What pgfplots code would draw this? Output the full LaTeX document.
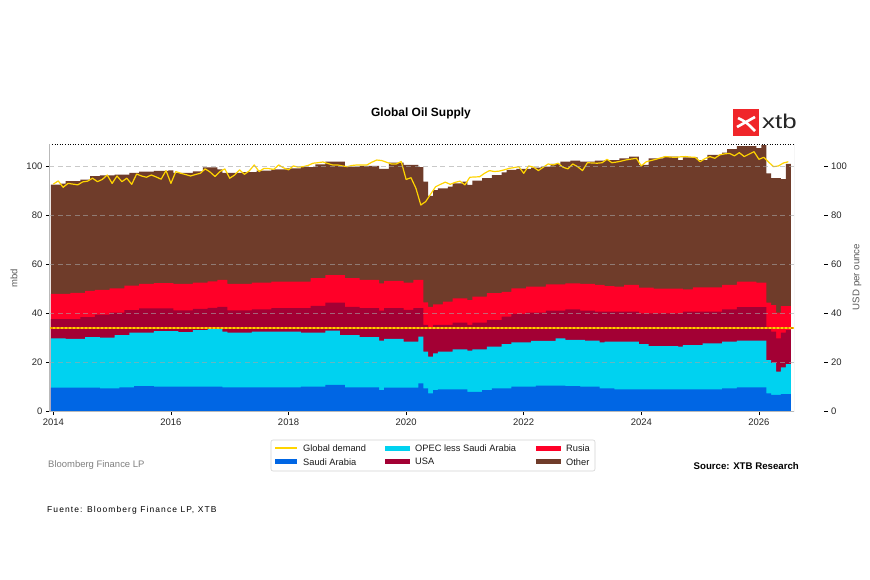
\documentclass[border=0pt]{standalone}
\usepackage{fontspec}
\setmainfont{Liberation Sans}
\newfontfamily\spaced[LetterSpace=13]{Liberation Sans}
\usepackage{pgfplots}
\usepackage{pgfplotstable}
\pgfplotsset{compat=1.18}

\definecolor{cSaudi}{HTML}{0066E4}
\definecolor{cOpec}{HTML}{00D2F0}
\definecolor{cUSA}{HTML}{A30034}
\definecolor{cRus}{HTML}{FF0028}
\definecolor{cOther}{HTML}{6F3C2A}
\definecolor{cDemand}{HTML}{FFD400}
\definecolor{cDotA}{HTML}{FFD000}
\definecolor{cDotB}{HTML}{E08A00}
\definecolor{cLogo}{HTML}{F0262A}

% cumulative tops: B = Saudi Arabia, C = + OPEC less Saudi Arabia, U = + USA, R = + Rusia, T = + Other (total); D = global demand
\pgfplotstableread{
B C U R T D
9.8 29.8 37.7 47.9 92.4 92.6
9.8 29.8 37.7 47.9 92.4 93.9
9.8 29.8 37.7 47.9 92.8 91.3
9.8 29.6 37.7 47.9 93.8 92.9
9.8 29.6 37.7 48.3 93.8 92.6
9.8 29.6 37.7 48.3 93.8 92.3
9.8 29.6 38.5 48.3 94.4 93.5
9.8 30.3 38.5 49.2 94.4 93.8
9.8 30.3 38.5 49.2 95.8 95.0
9.8 30.3 39.5 49.6 95.8 93.6
9.5 30.1 39.5 49.6 96.2 94.5
9.5 30.1 39.5 49.6 96.2 96.3
9.5 30.1 40.3 50.2 96.2 92.9
9.5 31.2 40.3 50.2 96.5 95.9
9.9 31.2 40.3 50.2 96.5 93.6
9.9 31.2 41.3 51.3 96.5 95.0
9.9 32.2 41.3 51.3 97.2 92.5
10.4 32.2 41.3 51.3 97.2 96.7
10.4 32.2 42.0 52.0 97.7 95.9
10.4 32.2 42.0 52.0 97.7 95.4
10.4 32.2 42.0 52.0 97.7 96.3
10.2 32.8 42.0 52.3 98.0 95.5
10.2 32.8 42.0 52.3 98.0 94.6
10.2 32.8 42.0 52.3 98.0 98.1
10.2 32.8 42.0 52.3 98.2 92.9
10.2 32.8 41.2 52.0 97.2 97.7
10.2 32.4 41.2 52.0 97.2 97.0
10.2 32.4 41.2 52.0 97.2 96.5
10.2 32.4 41.2 52.0 97.2 95.9
10.2 33.2 41.8 52.5 97.8 96.5
10.2 33.2 41.8 52.5 97.8 97.0
10.2 33.2 41.8 52.5 99.4 98.8
10.2 33.9 42.2 53.0 99.4 97.5
10.2 33.9 42.2 53.0 99.4 95.7
10.2 33.9 42.7 53.6 98.6 97.7
9.9 32.6 42.7 53.6 97.2 98.8
9.9 32.2 41.2 52.0 97.2 95.0
9.9 32.2 41.2 52.0 97.2 96.3
9.9 32.2 41.2 52.0 97.2 98.4
9.9 32.2 41.2 52.0 97.5 96.6
9.9 32.2 41.2 52.0 97.5 98.0
9.9 32.6 41.6 52.5 97.5 100.4
9.9 32.6 41.6 52.5 98.1 97.7
9.9 32.6 41.6 52.5 98.1 99.0
9.9 32.6 41.6 52.5 98.1 98.9
9.9 32.6 42.1 52.9 98.6 98.6
9.9 32.6 42.1 52.9 98.6 100.4
9.9 32.6 42.1 52.9 98.6 99.2
9.9 32.6 42.1 52.9 99.0 98.4
9.9 32.6 42.1 52.9 99.0 100.0
9.9 32.6 42.1 52.9 99.0 99.5
10.2 32.2 42.1 52.9 99.5 99.7
10.2 32.2 42.1 52.9 99.5 100.2
10.2 32.2 43.1 54.3 99.5 101.1
10.2 32.2 43.1 54.3 100.6 101.3
10.2 32.2 43.1 54.3 100.6 101.6
10.9 33.0 44.4 55.6 101.8 101.0
10.9 33.0 44.4 55.6 101.8 100.4
10.9 33.0 44.4 55.6 101.8 100.4
10.9 31.2 44.4 55.6 101.8 100.0
9.9 31.2 42.7 54.3 99.7 99.7
9.9 31.2 42.7 54.3 99.7 100.2
9.9 31.2 42.7 54.3 99.7 100.4
9.9 30.3 42.1 53.6 100.0 100.4
9.9 30.3 42.1 53.6 100.0 100.4
9.9 30.3 42.1 53.6 100.0 101.5
9.9 30.3 42.1 53.6 100.0 102.4
8.8 28.9 41.1 52.2 98.8 102.2
9.8 29.6 42.1 53.2 98.8 101.5
9.8 29.6 42.1 53.2 101.3 100.8
9.8 29.6 42.1 53.2 101.3 100.8
9.8 29.6 42.1 53.2 101.3 101.8
9.8 28.5 41.4 52.5 100.4 94.5
9.8 28.5 41.4 52.5 100.4 95.2
9.8 28.5 42.1 53.6 100.4 90.9
11.5 30.5 42.1 53.6 99.5 84.1
9.5 24.4 35.3 44.5 93.6 85.5
7.5 22.4 34.0 42.7 87.8 88.5
8.8 23.7 35.3 43.7 90.2 91.5
9.1 24.4 35.3 43.7 90.9 92.5
9.1 24.4 35.3 44.8 90.9 93.4
9.1 24.4 35.3 44.8 91.6 92.5
9.1 25.4 36.2 46.1 92.9 93.3
9.1 25.4 36.2 46.1 92.9 93.8
9.1 25.4 36.2 46.1 93.6 92.3
8.1 24.8 35.3 45.4 92.3 95.4
8.1 25.4 36.2 46.8 94.0 95.5
8.1 25.4 36.2 46.8 94.0 95.6
8.8 25.4 36.2 46.8 95.0 97.0
8.8 26.5 37.3 48.2 95.0 98.1
9.5 26.5 37.3 48.2 96.3 97.7
9.5 26.5 37.3 48.2 96.3 97.9
9.5 27.5 38.7 48.8 97.4 98.4
9.5 27.5 38.7 48.8 98.4 99.0
10.2 28.2 39.8 50.2 98.4 99.3
10.2 28.2 39.8 50.2 98.8 99.7
10.2 28.2 39.8 50.2 98.8 97.0
10.2 28.2 40.3 50.9 98.8 100.0
10.2 28.8 40.3 50.9 99.3 99.5
10.6 28.8 40.3 50.9 99.3 98.1
10.6 28.8 40.3 50.9 99.7 99.5
10.6 28.8 41.1 51.8 99.7 100.8
10.6 28.8 41.1 51.8 100.8 100.4
10.6 29.8 41.1 51.8 100.8 101.1
10.6 29.8 41.1 51.8 101.7 99.5
10.4 29.2 41.6 52.2 101.7 98.8
10.4 29.2 41.6 52.2 102.2 100.8
10.4 29.2 41.6 52.2 102.2 99.7
10.2 29.2 41.1 52.0 101.7 98.1
10.2 28.9 41.1 52.0 101.7 101.3
10.2 28.9 41.1 52.0 101.7 101.2
10.2 28.9 40.7 51.6 102.2 101.1
9.5 28.2 40.7 51.6 102.2 101.3
9.5 28.5 40.7 51.1 102.4 102.7
9.5 28.5 40.7 51.1 102.4 101.3
9.1 28.5 40.7 50.9 102.4 101.6
9.1 28.5 40.7 50.9 103.1 102.0
9.1 28.5 40.7 51.6 103.1 102.5
9.1 28.5 40.7 51.6 103.8 102.8
9.1 28.5 40.7 51.6 103.8 103.1
9.1 27.5 40.0 50.5 100.4 100.0
9.1 27.5 40.0 50.5 100.4 101.7
9.1 26.7 40.0 50.5 103.1 102.2
9.1 26.7 40.0 50.1 103.1 102.7
9.1 26.7 40.0 50.1 103.1 103.3
9.1 26.7 40.0 50.1 103.8 103.8
9.1 26.7 40.0 50.1 103.8 103.6
9.1 26.7 40.0 50.1 103.8 103.5
9.1 26.5 40.0 50.1 102.4 103.7
9.1 27.1 40.7 49.8 103.5 103.8
9.1 27.1 40.7 49.8 103.5 103.6
9.1 27.1 40.7 50.6 103.5 103.5
9.1 27.1 40.7 50.6 102.4 101.7
9.1 27.8 40.7 50.6 102.4 103.0
9.1 27.8 40.7 50.6 104.5 103.8
9.1 27.8 40.7 50.6 104.5 103.1
9.1 27.8 40.7 50.6 104.5 104.5
9.5 28.5 41.6 51.6 105.4 104.9
9.5 28.5 41.6 51.6 106.8 105.1
9.5 28.5 41.6 51.6 106.8 104.1
9.9 28.9 42.5 52.9 108.1 105.4
9.9 28.9 42.5 52.9 108.1 103.8
9.9 28.9 42.5 52.9 108.1 104.8
9.9 28.9 42.5 52.9 108.1 105.8
9.9 28.9 42.5 52.5 107.2 102.7
9.9 28.9 42.5 52.5 108.5 103.5
7.5 21.0 34.5 44.4 97.0 101.5
6.8 19.9 32.6 43.4 95.0 99.7
6.8 16.3 29.8 40.3 95.0 100.0
7.2 18.0 32.2 43.0 94.6 101.2
7.2 19.4 33.2 43.0 100.8 101.7
7.2 19.4 33.2 43.0 100.8 101.7
}\supply

\begin{document}
\begin{tikzpicture}
\useasboundingbox (0,0) rectangle (870bp,580bp);
\fill[white] (0,0) rectangle (870bp,580bp);

\begin{axis}[
  at={(49.3bp,168.3bp)}, anchor=south west,
  scale only axis, width=744.7bp, height=267.4bp,
  xmin=-0.82, xmax=151.16, ymin=0, ymax=108.8,
  axis x line*=bottom, axis y line*=left,
  axis line style={gray!55, line width=0.6bp},
  xtick={0,24,48,72,96,120,144},
  xticklabels={2014,2016,2018,2020,2022,2024,2026},
  ytick={0,20,40,60,80,100},
  ymajorgrids,
  major grid style={gray!70, opacity=0.6, line width=0.7bp, dash pattern=on 5bp off 3.5bp},
  tick align=outside, major tick length=3.5bp,
  tick style={black, line width=0.5bp},
  ticklabel style={font=\fontsize{9.5}{11}\selectfont, text=black!85},
  /pgf/number format/assume math mode=true,
  axis on top,
]
\addplot[const plot, fill=cOther, draw=none] table[x expr=\coordindex-0.5, y=T] {\supply} \closedcycle;
\addplot[const plot, fill=cRus, draw=none] table[x expr=\coordindex-0.5, y=R] {\supply} \closedcycle;
\addplot[const plot, fill=cUSA, draw=none] table[x expr=\coordindex-0.5, y=U] {\supply} \closedcycle;
\addplot[const plot, fill=cOpec, draw=none] table[x expr=\coordindex-0.5, y=C] {\supply} \closedcycle;
\addplot[const plot, fill=cSaudi, draw=none] table[x expr=\coordindex-0.5, y=B] {\supply} \closedcycle;

\addplot[cDotB, line width=1.8bp] coordinates {(-0.82,34.2) (151.16,34.2)};
\addplot[cDotA, line width=1.8bp, dash pattern=on 2bp off 2bp] coordinates {(-0.82,34.2) (151.16,34.2)};
\addplot[cDemand, line width=1.2bp, line join=round, skip coords between index={151}{152}] table[x expr=\coordindex, y=D] {\supply};

\draw[black, line width=0.8bp, dash pattern=on 1bp off 1.6bp] (rel axis cs:0,1) -- (rel axis cs:1,1);
\draw[gray!55, line width=0.6bp] (rel axis cs:1,0) -- (rel axis cs:1,1);
\end{axis}

\begin{axis}[
  at={(49.3bp,168.3bp)}, anchor=south west,
  scale only axis, width=774.7bp, height=267.4bp,
  xmin=0, xmax=1, ymin=0, ymax=108.8,
  hide x axis, axis y line*=right, y axis line style={draw=none},
  ytick={0,20,40,60,80,100},
  tick align=outside, major tick length=3.5bp,
  tick style={black, line width=0.5bp},
  yticklabel style={font=\fontsize{9.5}{11}\selectfont, text=black!85},
  /pgf/number format/assume math mode=true,
]
\addplot[draw=none] coordinates {(0,0)};
\end{axis}

% legend
\draw[gray!35, line width=0.6bp, rounded corners=2bp, fill=white] (271bp,109bp) rectangle (595bp,140bp);
\begin{scope}[every node/.style={anchor=west, inner sep=0, font=\fontsize{9.3}{11}\selectfont, text=black!90}]
\fill[cDemand] (275bp,130.9bp) rectangle (297bp,132.5bp);
\node at (303bp,131.7bp) {Global demand};
\fill[cOpec] (384.5bp,129bp) rectangle (410bp,134.4bp);
\node at (415bp,131.7bp) {OPEC less Saudi Arabia};
\fill[cRus] (535.5bp,129bp) rectangle (561bp,134.4bp);
\node at (566bp,131.7bp) {Rusia};
\fill[cSaudi] (275bp,115.6bp) rectangle (297bp,121bp);
\node at (303bp,118.3bp) {Saudi Arabia};
\fill[cUSA] (384.5bp,115.6bp) rectangle (410bp,121bp);
\node at (415bp,118.3bp) {USA};
\fill[cOther] (535.5bp,115.6bp) rectangle (561bp,121bp);
\node at (566bp,118.3bp) {Other};
\end{scope}

\node[font=\bfseries\fontsize{12}{14}\selectfont] at (421bp,467bp) {Global Oil Supply};

\fill[cLogo] (733bp,444bp) rectangle (759bp,471bp);
\draw[white, line width=2.6bp] (737bp,453bp) -- (755bp,463bp);
\draw[white, line width=2.6bp] (738bp,462bp) .. controls (746bp,458bp) .. (755bp,449bp);
\node[anchor=west, inner sep=0, font=\fontsize{20}{22}\selectfont, text=black!85] at (762bp,459bp) {\scalebox{1.3}[1]{xtb}};

\node[rotate=90, font=\fontsize{9.5}{11}\selectfont, text=black!65] at (14bp,302bp) {mbd};
\node[rotate=90, font=\fontsize{9.7}{11}\selectfont, text=black!65] at (857bp,303bp) {USD per ounce};

\node[anchor=west, inner sep=0, font=\fontsize{9.5}{11}\selectfont, text=black!50] at (48bp,115bp) {Bloomberg Finance LP};
\node[anchor=east, inner sep=0, font=\bfseries\fontsize{9.7}{11}\selectfont] at (799bp,114bp) {Source: XTB Research};
\node[anchor=west, inner sep=0, font=\spaced\fontsize{8.5}{10}\selectfont] at (47bp,70bp) {Fuente: Bloomberg Finance LP, XTB};
\end{tikzpicture}
\end{document}
